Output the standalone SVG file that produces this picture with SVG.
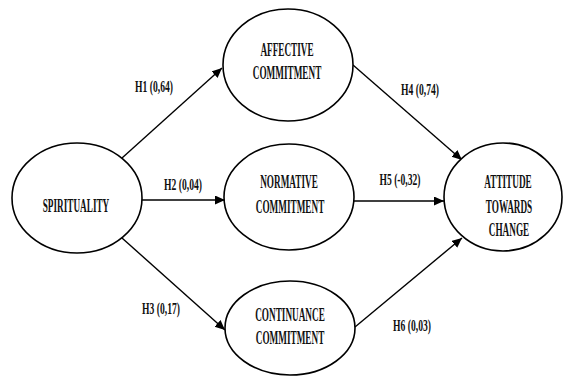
<svg xmlns="http://www.w3.org/2000/svg" width="563" height="376" viewBox="0 0 563 376">
<style>
.node ellipse{fill:#fff;stroke:#000;stroke-width:1.6}
.nt{font-family:"Liberation Serif","Times New Roman",serif;font-weight:bold;font-size:19px;fill:#111;text-anchor:middle}
.lt{font-family:"Liberation Serif","Times New Roman",serif;font-weight:bold;font-size:16px;fill:#111;text-anchor:middle}
.conn line{stroke:#000;stroke-width:1.4;marker-end:url(#ah)}
</style>
<defs>
<marker id="ah" markerUnits="userSpaceOnUse" markerWidth="12" markerHeight="10" refX="10" refY="4.5" orient="auto">
<path d="M0,0 L10,4.5 L0,9 Z" fill="#000"/>
</marker>
</defs>
<rect width="563" height="376" fill="#fff"/>
<g id="connectors" class="conn">
<line x1="122" y1="158" x2="222" y2="68"/>
<line x1="142" y1="200" x2="225" y2="200"/>
<line x1="122" y1="238" x2="225" y2="330"/>
<line x1="353" y1="65" x2="462" y2="160"/>
<line x1="354" y1="201" x2="444" y2="201"/>
<line x1="355" y1="327" x2="462" y2="238"/>
</g>
<g id="labels">
<text class="lt" transform="translate(154,92) scale(0.6,1)">H1 (0,64)</text>
<text class="lt" transform="translate(183,190) scale(0.6,1)">H2 (0,04)</text>
<text class="lt" transform="translate(161,314) scale(0.6,1)">H3 (0,17)</text>
<text class="lt" transform="translate(420,95) scale(0.6,1)">H4 (0,74)</text>
<text class="lt" transform="translate(400,185) scale(0.6,1)">H5 (-0,32)</text>
<text class="lt" transform="translate(412,331) scale(0.6,1)">H6 (0,03)</text>
</g>
<g id="spirituality" class="node">
<ellipse cx="77" cy="198" rx="65" ry="55"/>
<text class="nt" transform="translate(76,212) scale(0.485,1)">SPIRITUALITY</text>
</g>
<g id="affective" class="node">
<ellipse cx="288" cy="65" rx="65" ry="56"/>
<text class="nt" transform="translate(287,56) scale(0.485,1)">AFFECTIVE</text>
<text class="nt" transform="translate(287,79) scale(0.485,1)">COMMITMENT</text>
</g>
<g id="normative" class="node">
<ellipse cx="289" cy="197" rx="65" ry="53"/>
<text class="nt" transform="translate(289,188) scale(0.485,1)">NORMATIVE</text>
<text class="nt" transform="translate(290,213) scale(0.485,1)">COMMITMENT</text>
</g>
<g id="continuance" class="node">
<ellipse cx="290" cy="328" rx="65" ry="47"/>
<text class="nt" transform="translate(290,321) scale(0.485,1)">CONTINUANCE</text>
<text class="nt" transform="translate(290,344) scale(0.485,1)">COMMITMENT</text>
</g>
<g id="attitude" class="node">
<ellipse cx="503" cy="197" rx="59" ry="54"/>
<text class="nt" transform="translate(508,188) scale(0.485,1)">ATTITUDE</text>
<text class="nt" transform="translate(509,213) scale(0.485,1)">TOWARDS</text>
<text class="nt" transform="translate(509,236) scale(0.485,1)">CHANGE</text>
</g>
</svg>
